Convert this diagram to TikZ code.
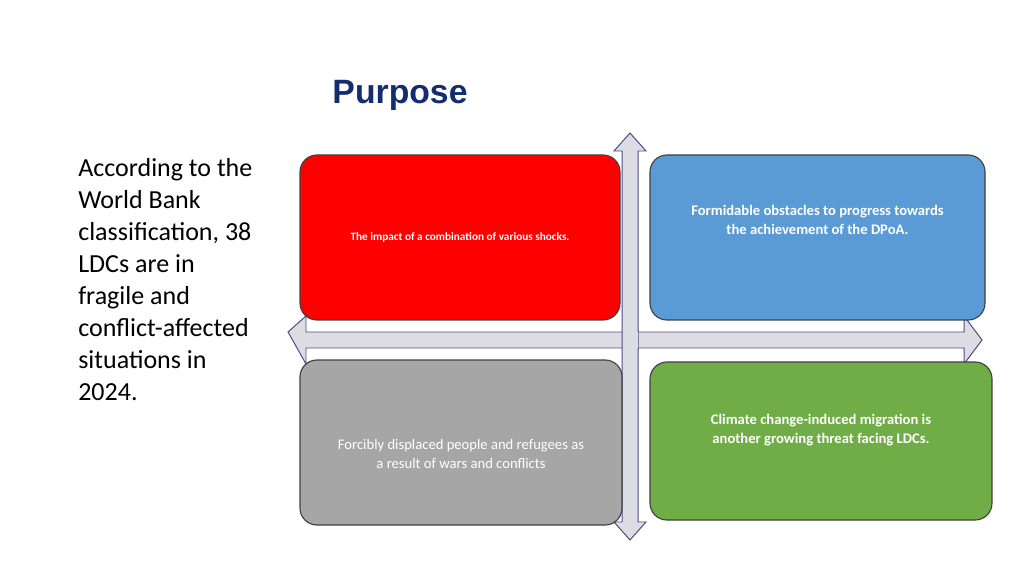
\documentclass[tikz,border=0pt]{standalone}
\usepackage{fontspec}
\setmainfont{Carlito}
\newfontfamily\arialfont{Liberation Sans}
\begin{document}
\begin{tikzpicture}[x=0.025cm,y=-0.025cm,
  quad/.style={draw=black!75,line width=0.8pt,rounded corners=12pt,text=white,align=center},
  crossarrow/.style={draw=black!40!blue!40!gray,fill=blue!10!gray!25,line width=0.7pt}]
\useasboundingbox (0,0) rectangle (1024,576);
\node[font=\arialfont\bfseries\fontsize{24}{28}\selectfont,text={rgb,255:red,20;green,45;blue,110}] (title) at (400,95) {Purpose};
\node[anchor=north west,align=left,font=\fontsize{18.5}{22.8}\selectfont,inner sep=0pt] (left) at (78,158)
 {According to the\\World Bank\\classification, 38\\LDCs are in\\fragile and\\conflict-affected\\situations in\\2024.};
% cross arrows
\draw[crossarrow] (288,332)--(306,316)--(306,332)--(964,332)--(964,316)--(982,340)--(964,364)--(964,348)--(306,348)--(306,364)--cycle;
\draw[crossarrow] (622,151)--(614,151)--(630,133)--(646,151)--(638,151)--(638,522)--(646,522)--(630,540)--(614,522)--(622,522)--cycle;
\fill[blue!10!gray!25] (622.5,332.5) rectangle (637.5,347.5);
% boxes
\node[quad,fill={rgb,255:red,255;green,0;blue,0},minimum width=320*0.025cm,minimum height=165*0.025cm,font=\bfseries\fontsize{8}{10}\selectfont] (red) at (460,237.5) {The impact of a combination of various shocks.};
\node[quad,fill={rgb,255:red,91;green,155;blue,213},minimum width=335*0.025cm,minimum height=165*0.025cm,font=\bfseries\fontsize{10.4}{13.5}\selectfont,text depth=0pt] (blue) at (817.5,237.5) {Formidable obstacles to progress towards\\the achievement of the DPoA.\\[12pt]};
\node[quad,fill={rgb,255:red,166;green,166;blue,166},minimum width=322*0.025cm,minimum height=165*0.025cm,font=\fontsize{10.4}{13.5}\selectfont] (gray) at (461,442.5) {\\[10pt]Forcibly displaced people and refugees as\\a result of wars and conflicts};
\node[quad,fill={rgb,255:red,112;green,173;blue,71},minimum width=342*0.025cm,minimum height=158*0.025cm,font=\bfseries\fontsize{10.4}{13.5}\selectfont] (green) at (821,441) {Climate change-induced migration is\\another growing threat facing LDCs.\\[4pt]};
\end{tikzpicture}
\end{document}
